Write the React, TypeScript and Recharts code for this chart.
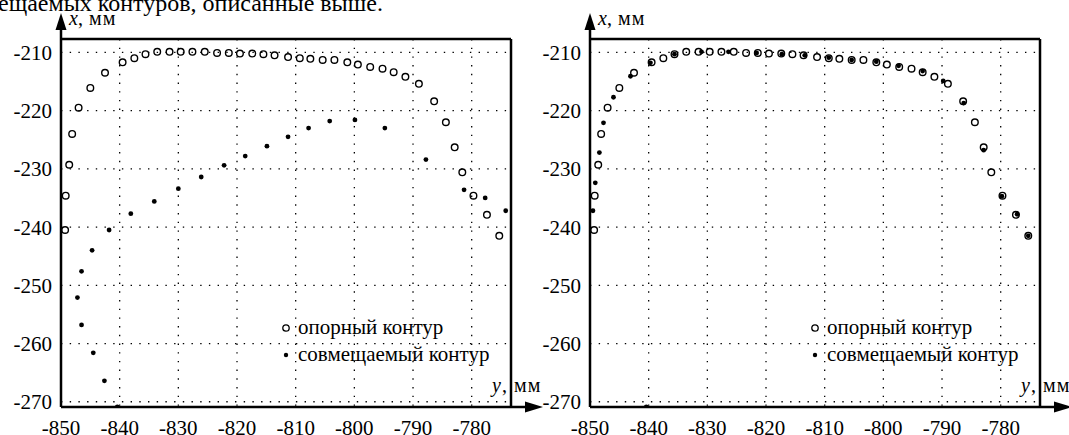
import { CartesianGrid, Legend, ReferenceLine, Scatter, ScatterChart, XAxis, YAxis } from "recharts"

const FONT = "'Liberation Serif', 'Times New Roman', serif"

// horizontal axis is y (mm), vertical axis is x (mm)
const yTicks = [-850, -840, -830, -820, -810, -800, -790, -780]
const xTicks = [-270, -260, -250, -240, -230, -220, -210]

// опорный контур
const refY = [
  -849.3, -849.2, -848.6, -848.1, -847.0, -845.0, -842.5, -839.5, -837.5, -835.6,
  -833.6, -831.5, -829.6, -827.6, -825.5, -823.4, -821.4, -819.5, -817.4, -815.5,
  -813.6, -811.3, -809.3, -807.5, -805.4, -803.4, -801.2, -799.4, -797.3, -795.2,
  -793.3, -791.3, -789.0, -786.4, -784.4, -782.9, -781.6, -779.7, -777.4, -775.3,
]
const refX = [
  -240.5, -234.6, -229.3, -224.0, -219.5, -216.1, -213.5, -211.7, -211.0, -210.3,
  -209.9, -209.9, -209.9, -209.9, -209.9, -210.1, -210.1, -210.2, -210.2, -210.3,
  -210.5, -210.8, -211.0, -211.1, -211.3, -211.3, -211.7, -212.1, -212.5, -212.8,
  -213.4, -214.2, -215.4, -218.4, -222.0, -226.3, -230.6, -234.6, -237.9, -241.5,
]

// совмещаемый контур до совмещения (левый график)
const movedY = [
  -840.4, -842.6, -844.5, -846.5, -847.2, -846.5, -844.7, -841.8, -838.1, -834.1,
  -830.0, -826.1, -822.2, -818.6, -814.9, -811.3, -807.8, -804.2, -799.9, -794.8,
  -787.8, -781.3, -777.7, -774.2,
]
const movedX = [
  -270.9, -266.4, -261.6, -256.8, -252.1, -247.6, -244.0, -240.5, -237.7, -235.6,
  -233.4, -231.4, -229.4, -227.8, -226.1, -224.5, -223.0, -221.8, -221.6, -223.0,
  -228.4, -233.6, -235.0, -237.2,
]

// совмещаемый контур после совмещения (правый график)
const alignedY = [
  -840.4, -849.5, -849.1, -848.4, -847.7, -846.0, -843.1, -839.7, -835.6, -831.0,
  -826.4, -821.6, -817.3, -813.4, -809.3, -805.4, -801.2, -797.4, -793.3, -789.8,
  -786.3, -782.9, -779.8, -777.2, -775.3,
]
const alignedX = [
  -270.9, -237.2, -232.4, -227.2, -222.1, -217.7, -214.1, -211.8, -210.3, -209.9,
  -209.9, -210.1, -210.3, -210.5, -210.9, -211.3, -211.6, -212.3, -213.2, -214.9,
  -218.7, -226.8, -234.7, -237.8, -241.5,
]

const toPoints = (ys: number[], xs: number[]) => ys.map((y, i) => ({ y, x: xs[i] }))

const refData = toPoints(refY, refX)
const movedData = toPoints(movedY, movedX)
const alignedData = toPoints(alignedY, alignedX)

const Y_DOMAIN: [number, number] = [-850, -773.3]
const X_DOMAIN: [number, number] = [-270.9, -207.7]

const W = 540
const H = 435
const AX_L = 60
const AX_T = 39
const AX_R = 510
const AX_B = 407

const OpenDot = (p: any) => (
  <circle cx={p.cx} cy={p.cy} r={3.3} fill="none" stroke="#000" strokeWidth={1.4} />
)
const FilledDot = (p: any) => <circle cx={p.cx} cy={p.cy} r={2.4} fill="#000" />

const legendContent = (props: any) => (
  <svg width={240} height={60}>
    {(props.payload || []).map((e: any, i: number) => (
      <g key={i}>
        {i === 0 ? (
          <circle cx={7} cy={16} r={3.2} fill="none" stroke="#000" strokeWidth={1.3} />
        ) : (
          <circle cx={7} cy={43} r={2.2} fill="#000" />
        )}
        <text x={19} y={22 + i * 27} fontFamily={FONT} fontSize={21} fill="#000">
          {e.value}
        </text>
      </g>
    ))}
  </svg>
)

function Panel({ left, dots }: { left: number; dots: { y: number; x: number }[] }) {
  return (
    <div style={{ position: "absolute", left, top: 0, width: W, height: H }}>
      <ScatterChart width={W} height={H} margin={{ top: AX_T, right: W - AX_R, bottom: 0, left: 0 }}>
        <CartesianGrid stroke="#000" strokeWidth={1.3} strokeDasharray="1.4 7.3" />
        <XAxis
          type="number"
          dataKey="y"
          domain={Y_DOMAIN}
          ticks={yTicks}
          allowDataOverflow
          height={H - AX_B}
          tickSize={0}
          tickMargin={13}
          axisLine={{ stroke: "#000", strokeWidth: 2.5 }}
          tick={{ fontFamily: FONT, fontSize: 21, fill: "#000" }}
        />
        <YAxis
          type="number"
          dataKey="x"
          domain={X_DOMAIN}
          ticks={xTicks}
          allowDataOverflow
          width={AX_L}
          tickSize={0}
          tickMargin={9}
          axisLine={{ stroke: "#000", strokeWidth: 2.5 }}
          tick={{ fontFamily: FONT, fontSize: 21, fill: "#000" }}
        />
        <ReferenceLine y={X_DOMAIN[1]} stroke="#000" strokeWidth={2.5} />
        <ReferenceLine x={Y_DOMAIN[1]} stroke="#000" strokeWidth={2.5} />
        <Scatter name="опорный контур" data={refData} shape={OpenDot} isAnimationActive={false} />
        <Scatter name="совмещаемый контур" data={dots} shape={FilledDot} isAnimationActive={false} />
        <Legend
          layout="vertical"
          align="center"
          verticalAlign="middle"
          content={legendContent}
          wrapperStyle={{ position: "absolute", left: 278, top: 312, width: 240, height: 60 }}
        />
      </ScatterChart>
      <svg
        width={W}
        height={H}
        style={{ position: "absolute", left: 0, top: 0, overflow: "visible", pointerEvents: "none" }}
      >
        <line x1={AX_L} y1={AX_T} x2={AX_L} y2={27} stroke="#000" strokeWidth={2.5} />
        <polygon points={`${AX_L},13 ${AX_L - 5.5},30 ${AX_L + 5.5},30`} fill="#000" />
        <line x1={AX_R} y1={AX_B} x2={527} y2={AX_B} stroke="#000" strokeWidth={2.5} />
        <polygon points={`542,${AX_B} 524,${AX_B - 5.5} 524,${AX_B + 5.5}`} fill="#000" />
        <text y={25} fontFamily={FONT} fontSize={20} fill="#000">
          <tspan x={68} fontStyle="italic">x</tspan>
          <tspan x={77}>,</tspan>
          <tspan x={88} letterSpacing={1.2}>мм</tspan>
        </text>
        <text y={392} fontFamily={FONT} fontSize={20} fill="#000">
          <tspan x={491} fontStyle="italic">y</tspan>
          <tspan x={501}>,</tspan>
          <tspan x={513} letterSpacing={1.2}>мм</tspan>
        </text>
      </svg>
    </div>
  )
}

export default function App() {
  return (
    <div
      style={{
        position: "absolute",
        left: 0,
        top: 0,
        width: 1069,
        height: 435,
        overflow: "hidden",
        background: "#fff",
      }}
    >
      <svg width={1069} height={40} style={{ position: "absolute", left: 0, top: 0 }}>
        <text x={-2} y={11} fontFamily={FONT} fontSize={24} fill="#000">
          ещаемых контуров, описанные выше.
        </text>
      </svg>
      <Panel left={1} dots={movedData} />
      <Panel left={530} dots={alignedData} />
    </div>
  )
}
